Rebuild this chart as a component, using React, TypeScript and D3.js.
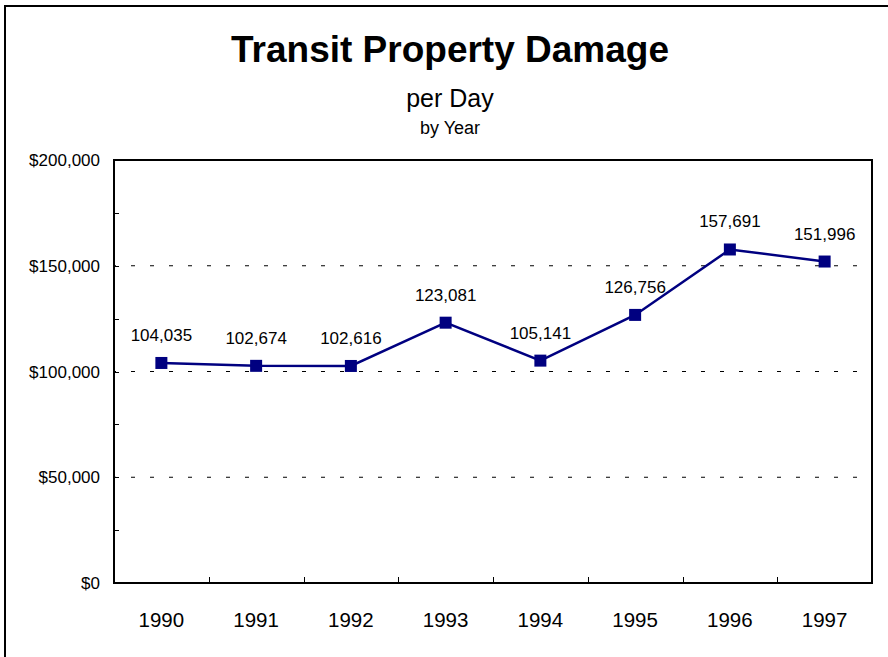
import React, { useRef, useEffect } from 'react';
import * as d3 from 'd3';

const YEARS = ['1990', '1991', '1992', '1993', '1994', '1995', '1996', '1997'];
const DAMAGE_PER_DAY = [104035, 102674, 102616, 123081, 105141, 126756, 157691, 151996];
const Y_TICKS = [0, 50000, 100000, 150000, 200000];
const Y_MINOR_TICKS = [25000, 50000, 75000, 100000, 125000, 150000, 175000];

const FONT = '"Liberation Sans", Arial, Helvetica, sans-serif';
const NAVY = '#000080';

const WIDTH = 888;
const HEIGHT = 657;

const TransitDamageChart: React.FC = () => {
  const svgRef = useRef<SVGSVGElement>(null);

  useEffect(() => {
    if (!svgRef.current) return;
    const svg = d3.select(svgRef.current);
    svg.selectAll('*').remove();

    const plot = { left: 114, top: 160, right: 872, bottom: 583 };

    // outer frame (runs off the right / bottom edge)
    svg
      .append('path')
      .attr('d', `M5,${HEIGHT + 10} L5,6 L${WIDTH + 10},6`)
      .attr('fill', 'none')
      .attr('stroke', '#000')
      .attr('stroke-width', 2);

    // titles
    svg
      .append('text')
      .attr('x', 450)
      .attr('y', 62)
      .attr('text-anchor', 'middle')
      .style('font-family', FONT)
      .style('font-size', '37px')
      .style('font-weight', 'bold')
      .text('Transit Property Damage');

    svg
      .append('text')
      .attr('x', 450)
      .attr('y', 107)
      .attr('text-anchor', 'middle')
      .style('font-family', FONT)
      .style('font-size', '25px')
      .text('per Day');

    svg
      .append('text')
      .attr('x', 450)
      .attr('y', 134)
      .attr('text-anchor', 'middle')
      .style('font-family', FONT)
      .style('font-size', '18px')
      .text('by Year');

    const xScale = d3.scaleBand().domain(YEARS).range([plot.left, plot.right]);
    const yScale = d3.scaleLinear().domain([0, 200000]).range([plot.bottom, plot.top]);

    // dashed gridlines
    svg
      .selectAll('.grid')
      .data(Y_TICKS.filter((t) => t > 0 && t < 200000))
      .enter()
      .append('line')
      .attr('class', 'grid')
      .attr('x1', plot.left)
      .attr('x2', plot.right)
      .attr('y1', (d) => yScale(d))
      .attr('y2', (d) => yScale(d))
      .attr('stroke', '#000')
      .attr('stroke-width', 1)
      .attr('stroke-dasharray', '4,15')
      .attr('stroke-dashoffset', -17);

    // y ticks (inside)
    svg
      .selectAll('.ytick')
      .data(Y_MINOR_TICKS)
      .enter()
      .append('line')
      .attr('class', 'ytick')
      .attr('x1', plot.left)
      .attr('x2', plot.left + 5)
      .attr('y1', (d) => Math.round(yScale(d)) + 0.5)
      .attr('y2', (d) => Math.round(yScale(d)) + 0.5)
      .attr('stroke', '#000')
      .attr('stroke-width', 1);

    // x ticks at category boundaries (inside)
    svg
      .selectAll('.xtick')
      .data(YEARS.slice(1))
      .enter()
      .append('line')
      .attr('class', 'xtick')
      .attr('x1', (d) => Math.round(xScale(d) || 0) + 0.5)
      .attr('x2', (d) => Math.round(xScale(d) || 0) + 0.5)
      .attr('y1', plot.bottom)
      .attr('y2', plot.bottom - 6)
      .attr('stroke', '#000')
      .attr('stroke-width', 1);

    // plot border
    svg
      .append('rect')
      .attr('x', plot.left)
      .attr('y', plot.top)
      .attr('width', plot.right - plot.left)
      .attr('height', plot.bottom - plot.top)
      .attr('fill', 'none')
      .attr('stroke', '#000')
      .attr('stroke-width', 2);

    // y labels
    svg
      .selectAll('.ylabel')
      .data(Y_TICKS)
      .enter()
      .append('text')
      .attr('class', 'ylabel')
      .attr('x', 100)
      .attr('y', (d) => yScale(d) + 6)
      .attr('text-anchor', 'end')
      .style('font-family', FONT)
      .style('font-size', '17px')
      .text((d) => '$' + d3.format(',')(d));

    // x labels
    svg
      .selectAll('.xlabel')
      .data(YEARS)
      .enter()
      .append('text')
      .attr('class', 'xlabel')
      .attr('x', (d) => (xScale(d) || 0) + xScale.bandwidth() / 2)
      .attr('y', 627)
      .attr('text-anchor', 'middle')
      .style('font-family', FONT)
      .style('font-size', '20.5px')
      .text((d) => d);

    const points = YEARS.map((year, i) => ({
      year,
      value: DAMAGE_PER_DAY[i],
      x: (xScale(year) || 0) + xScale.bandwidth() / 2,
      y: yScale(DAMAGE_PER_DAY[i]),
    }));

    // series line
    const line = d3
      .line<{ x: number; y: number }>()
      .x((d) => d.x)
      .y((d) => d.y);

    svg
      .append('path')
      .datum(points)
      .attr('d', line)
      .attr('fill', 'none')
      .attr('stroke', NAVY)
      .attr('stroke-width', 2.5);

    // markers
    svg
      .selectAll('.marker')
      .data(points)
      .enter()
      .append('rect')
      .attr('class', 'marker')
      .attr('x', (d) => d.x - 6)
      .attr('y', (d) => d.y - 6)
      .attr('width', 12)
      .attr('height', 12)
      .attr('fill', NAVY);

    // value labels
    svg
      .selectAll('.value-label')
      .data(points)
      .enter()
      .append('text')
      .attr('class', 'value-label')
      .attr('x', (d) => d.x)
      .attr('y', (d) => d.y - 22)
      .attr('text-anchor', 'middle')
      .style('font-family', FONT)
      .style('font-size', '17px')
      .text((d) => d3.format(',')(d.value));
  }, []);

  return (
    <svg
      ref={svgRef}
      width={WIDTH}
      height={HEIGHT}
      style={{ position: 'absolute', left: 0, top: 0, background: '#fff' }}
    />
  );
};

export default function App() {
  return <TransitDamageChart />;
}
